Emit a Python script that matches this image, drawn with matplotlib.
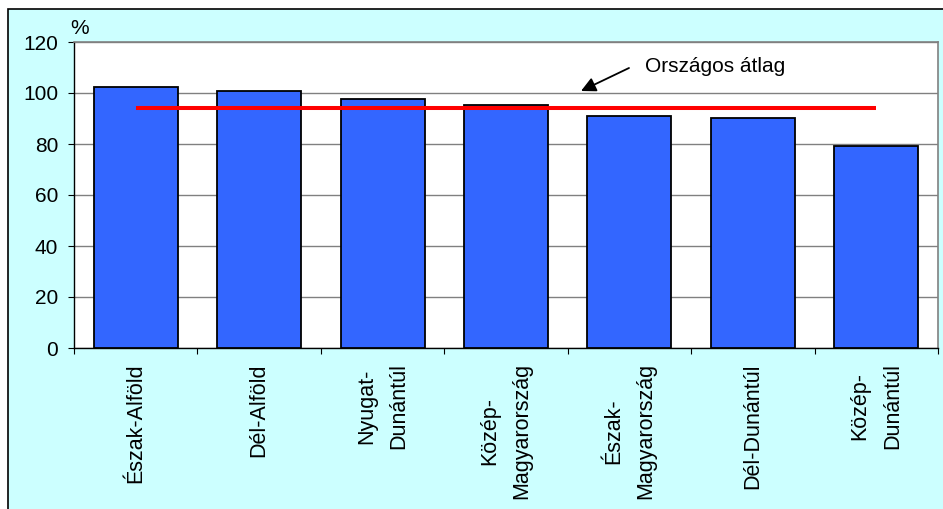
import matplotlib
matplotlib.use("Agg")
import matplotlib.pyplot as plt
from matplotlib.patches import Rectangle

plt.rcParams["font.family"] = ["Liberation Sans", "DejaVu Sans"]

# ── Data ──────────────────────────────────────────────────────────────────────
REGIONS = ["Észak-Alföld", "Dél-Alföld", "Nyugat-\nDunántúl", "Közép-\nMagyarország",
           "Észak-\nMagyarország", "Dél-Dunántúl", "Közép-\nDunántúl"]
VALUES = [102.2, 100.6, 97.5, 95.3, 91.0, 90.3, 79.2]
NATIONAL_AVG = 94.3
Y_TICKS = [0, 20, 40, 60, 80, 100, 120]

BG = "#CCFFFF"
BAR = "#3366FF"

W, H = 943, 509
fig = plt.figure(figsize=(W / 100, H / 100), dpi=100, facecolor="white")

# outer chart frame (cyan, cut off on the right and bottom)
fig.patches.append(Rectangle((8 / W, -0.02), 1.02, 1 - 9 / H + 0.02,
                             transform=fig.transFigure, facecolor=BG,
                             edgecolor="black", linewidth=1.2, zorder=-5))

ax = fig.add_axes([74 / W, 1 - 348 / H, (938 - 74) / W, (348 - 42) / H])
ax.set_zorder(2)
ax.set_facecolor("white")

x = list(range(len(REGIONS)))
ax.bar(x, VALUES, width=0.68, color=BAR, edgecolor="black", linewidth=1.3, zorder=3)
ax.plot([x[0], x[-1]], [NATIONAL_AVG, NATIONAL_AVG], color="#FF0000", linewidth=2.9,
        solid_capstyle="butt", zorder=4)

ax.set_xlim(-0.5, len(REGIONS) - 0.5)
ax.set_ylim(0, 120)
ax.set_yticks(Y_TICKS)
ax.set_yticklabels([str(v) for v in Y_TICKS], fontsize=15)
ax.yaxis.grid(True, color="#808080", linewidth=1.0, zorder=0)
ax.set_axisbelow(True)

# category labels centred, ticks at the boundaries
ax.set_xticks(x)
ax.set_xticklabels(REGIONS, rotation=90, fontsize=15.5, linespacing=1.7)
for lbl in ax.get_xticklabels():
    lbl.set_multialignment("center")
ax.tick_params(axis="x", which="major", length=0, pad=11)
ax.set_xticks([i - 0.5 for i in range(len(REGIONS) + 1)], minor=True)
ax.tick_params(axis="x", which="minor", length=4.5, direction="out", width=0.8)
ax.tick_params(axis="y", length=4.5, direction="out", width=0.8, pad=7)

for side in ("left", "bottom"):
    ax.spines[side].set_color("black")
    ax.spines[side].set_linewidth(1.0)
for side in ("right", "top"):
    ax.spines[side].set_color("#808080")
    ax.spines[side].set_linewidth(1.2)

fig.text(70 / W, 1 - 28 / H, "%", fontsize=15, ha="left", va="center")

ax.annotate("Országos átlag", xy=(645, H - 66), xycoords="figure pixels",
            fontsize=15, ha="left", va="center")
ax.annotate("", xy=(581, H - 91), xycoords="figure pixels",
            xytext=(629, H - 68), textcoords="figure pixels",
            arrowprops=dict(arrowstyle="-|>", color="black", lw=1.3,
                            mutation_scale=22, shrinkA=0, shrinkB=0))

fig.savefig("out.png", dpi=100, facecolor="white")
